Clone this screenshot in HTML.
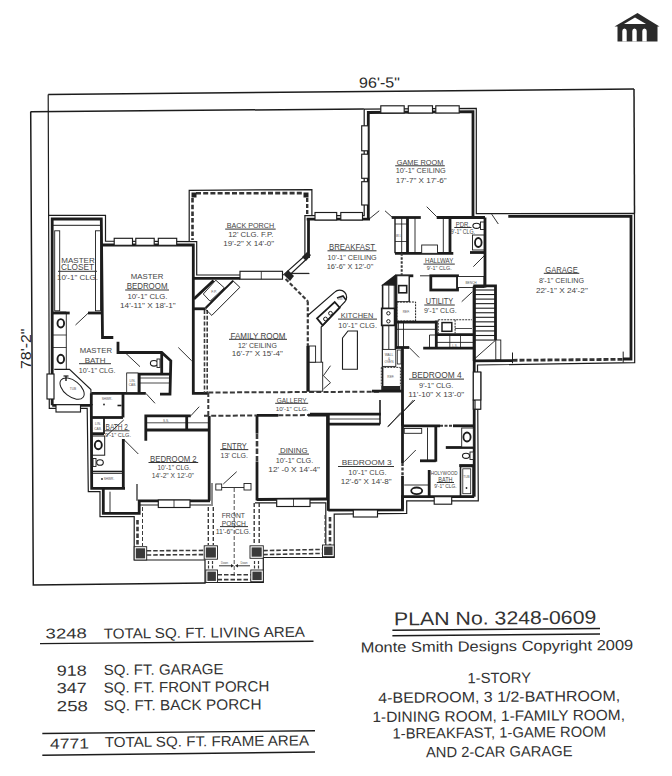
<!DOCTYPE html>
<html><head><meta charset="utf-8"><style>
html,body{margin:0;padding:0;background:#fff;}
body{width:672px;height:776px;overflow:hidden;}
svg{display:block;}
text{font-family:"Liberation Sans",sans-serif;}
</style></head><body>
<svg width="672" height="776" viewBox="0 0 672 776" stroke-linecap="butt">
<rect width="672" height="776" fill="#fff"/>
<line x1="48.2" y1="94.4" x2="634" y2="89" stroke="#1c1c1c" stroke-width="1.5"/>
<polyline points="30.5,111.7 363.8,109.0" fill="none" stroke="#1c1c1c" stroke-width="1.5" stroke-linejoin="miter"/>
<polyline points="30.7,111.7 33.3,585.0 205.7,583.0" fill="none" stroke="#1c1c1c" stroke-width="1.5" stroke-linejoin="miter"/>
<line x1="634" y1="89" x2="634.5" y2="213.3" stroke="#1c1c1c" stroke-width="1.5"/>
<polyline points="48.2,94.4 49.3,408.3 87.2,408.3 88.3,491.7 100.0,491.7 100.0,516.7 134.2,516.7 134.2,560.0 205.0,560.0 205.0,582.5 263.3,582.5 263.3,557.5 334.2,557.5 334.2,514.2 406.7,513.3 406.7,500.8 478.3,500.8 477.5,365.0 634.7,362.6 634.5,213.3 476.3,213.7 476.3,108.3 364.2,109.2 364.2,215.6 304.9,215.6 304.9,255.8 283.2,275.1" fill="none" stroke="#1c1c1c" stroke-width="1.2" stroke-linejoin="miter"/>
<polyline points="48.8,215.3 105.5,215.3 105.5,241.2 196.7,241.7 196.7,275.0 240.0,275.0" fill="none" stroke="#1c1c1c" stroke-width="1.2" stroke-linejoin="miter"/>
<polyline points="189.2,241.5 189.2,190.3 311.9,189.6 311.9,215.6" fill="none" stroke="#1c1c1c" stroke-width="1.2" stroke-linejoin="miter"/>
<polyline points="255.0,502.8 325.8,502.8 325.8,557.5" fill="none" stroke="#1c1c1c" stroke-width="1.2" stroke-linejoin="miter"/>
<polyline points="139.0,505.0 211.0,505.0" fill="none" stroke="#1c1c1c" stroke-width="1.2" stroke-linejoin="miter"/>
<polyline points="52.2,405.3 52.2,219.0 101.3,219.0 102.5,337.5 113.3,337.5" fill="none" stroke="#1c1c1c" stroke-width="2.8" stroke-linejoin="miter"/>
<polyline points="52.2,405.3 91.3,405.3 91.7,488.3 125.0,488.3" fill="none" stroke="#1c1c1c" stroke-width="2.8" stroke-linejoin="miter"/>
<polyline points="103.3,488.3 103.3,513.3 139.2,513.3 139.2,500.8 210.0,500.8" fill="none" stroke="#1c1c1c" stroke-width="2.8" stroke-linejoin="miter"/>
<polyline points="101.3,245.0 193.3,245.0 193.3,393.3 208.3,393.3" fill="none" stroke="#1c1c1c" stroke-width="2.8" stroke-linejoin="miter"/>
<line x1="53" y1="225.3" x2="101" y2="225.3" stroke="#1c1c1c" stroke-width="1.0"/>
<rect x="54.7" y="230.8" width="5.0" height="80.0" fill="#fff" stroke="#1c1c1c" stroke-width="0.9"/>
<rect x="95.5" y="230.8" width="5.0" height="80.0" fill="#fff" stroke="#1c1c1c" stroke-width="0.9"/>
<line x1="53" y1="313" x2="69.7" y2="313" stroke="#1c1c1c" stroke-width="2.8"/>
<line x1="88" y1="313" x2="101.3" y2="313" stroke="#1c1c1c" stroke-width="2.8"/>
<polyline points="118.0,341.7 118.0,352.5 161.7,352.5 170.8,360.8 170.0,394.2 160.0,394.2" fill="none" stroke="#1c1c1c" stroke-width="2.8" stroke-linejoin="miter"/>
<line x1="161.7" y1="352.5" x2="161.7" y2="374.2" stroke="#1c1c1c" stroke-width="2.8"/>
<line x1="126.7" y1="374.2" x2="170" y2="374.2" stroke="#1c1c1c" stroke-width="2.8"/>
<line x1="139.2" y1="375" x2="139.2" y2="392.5" stroke="#1c1c1c" stroke-width="2.8"/>
<line x1="91.3" y1="393.3" x2="145.8" y2="393.3" stroke="#1c1c1c" stroke-width="2.8"/>
<line x1="123" y1="393.3" x2="123" y2="417.5" stroke="#1c1c1c" stroke-width="2.8"/>
<line x1="91.5" y1="417.5" x2="123" y2="417.5" stroke="#1c1c1c" stroke-width="2.8"/>
<line x1="123.7" y1="420" x2="106.6" y2="435.6" stroke="#1c1c1c" stroke-width="0.9"/>
<line x1="104" y1="418" x2="104" y2="434" stroke="#1c1c1c" stroke-width="1.8"/>
<line x1="91.5" y1="433.7" x2="104" y2="433.7" stroke="#1c1c1c" stroke-width="2.8"/>
<line x1="117.5" y1="405.5" x2="121.5" y2="405.5" stroke="#1c1c1c" stroke-width="1.6"/>
<line x1="123.3" y1="439" x2="123.3" y2="488.3" stroke="#1c1c1c" stroke-width="2.8"/>
<polyline points="145.8,440.8 145.8,415.8 190.8,415.8" fill="none" stroke="#1c1c1c" stroke-width="2.8" stroke-linejoin="miter"/>
<line x1="145.8" y1="430" x2="209.2" y2="430" stroke="#1c1c1c" stroke-width="2.8"/>
<line x1="186.7" y1="415.8" x2="186.7" y2="430" stroke="#1c1c1c" stroke-width="2.8"/>
<line x1="146" y1="422.8" x2="209" y2="422.8" stroke="#1c1c1c" stroke-width="0.8"/>
<line x1="209.2" y1="415.8" x2="209.2" y2="500.8" stroke="#1c1c1c" stroke-width="2.8"/>
<line x1="137" y1="484" x2="137" y2="500.8" stroke="#1c1c1c" stroke-width="1.2"/>
<line x1="212" y1="483" x2="212" y2="506" stroke="#1c1c1c" stroke-width="1.0"/>
<line x1="257" y1="415.3" x2="257" y2="433.4" stroke="#1c1c1c" stroke-width="2.8"/>
<line x1="257" y1="433.4" x2="257" y2="461.7" stroke="#3a3a3a" stroke-width="2.6" stroke-dasharray="5.5 2"/>
<line x1="257" y1="461.7" x2="257" y2="500.4" stroke="#1c1c1c" stroke-width="2.8"/>
<line x1="208.3" y1="392.5" x2="380" y2="391.7" stroke="#3a3a3a" stroke-width="2.0" stroke-dasharray="5 2.2"/>
<line x1="204" y1="415.8" x2="256.7" y2="415.5" stroke="#3a3a3a" stroke-width="2.0" stroke-dasharray="5 2.2"/>
<line x1="208.3" y1="393" x2="208.3" y2="416" stroke="#3a3a3a" stroke-width="2.0" stroke-dasharray="4 2"/>
<line x1="256.7" y1="415.4" x2="278.3" y2="415.3" stroke="#1c1c1c" stroke-width="2.8"/>
<line x1="278.3" y1="415.2" x2="308" y2="415.1" stroke="#3a3a3a" stroke-width="2.0" stroke-dasharray="5 2.2"/>
<line x1="308" y1="415.1" x2="328.3" y2="415" stroke="#1c1c1c" stroke-width="2.8"/>
<line x1="327.5" y1="415" x2="327.5" y2="499" stroke="#1c1c1c" stroke-width="2.8"/>
<line x1="256.7" y1="499.5" x2="327.5" y2="499" stroke="#1c1c1c" stroke-width="2.8"/>
<line x1="310" y1="414.2" x2="380.8" y2="414.2" stroke="#1c1c1c" stroke-width="2.8"/>
<line x1="328.3" y1="424.2" x2="380" y2="424.2" stroke="#1c1c1c" stroke-width="2.8"/>
<line x1="328.3" y1="419" x2="380" y2="419" stroke="#1c1c1c" stroke-width="0.8"/>
<line x1="380" y1="400" x2="380" y2="424.2" stroke="#1c1c1c" stroke-width="1.6"/>
<line x1="328.3" y1="414.2" x2="328.3" y2="510.8" stroke="#1c1c1c" stroke-width="2.8"/>
<polyline points="328.3,510.2 402.5,509.8 402.5,496.7 474.2,496.7" fill="none" stroke="#1c1c1c" stroke-width="2.8" stroke-linejoin="miter"/>
<line x1="402.5" y1="412.5" x2="402.5" y2="463" stroke="#1c1c1c" stroke-width="2.8"/>
<line x1="402.5" y1="463" x2="402.5" y2="476" stroke="#3a3a3a" stroke-width="2.4" stroke-dasharray="3 1.6"/>
<line x1="402.5" y1="476" x2="402.5" y2="509" stroke="#1c1c1c" stroke-width="2.8"/>
<line x1="474.2" y1="285" x2="474.2" y2="496.7" stroke="#1c1c1c" stroke-width="2.8"/>
<line x1="402.5" y1="425.8" x2="440" y2="425.8" stroke="#1c1c1c" stroke-width="2.8"/>
<line x1="440" y1="425.8" x2="453" y2="425.8" stroke="#3a3a3a" stroke-width="2.0" stroke-dasharray="3 1.5"/>
<line x1="453" y1="425.8" x2="474.2" y2="425.8" stroke="#1c1c1c" stroke-width="2.8"/>
<line x1="427.5" y1="427.5" x2="427.5" y2="461.7" stroke="#1c1c1c" stroke-width="0.9"/>
<line x1="435.8" y1="427" x2="435.8" y2="461.7" stroke="#1c1c1c" stroke-width="2.8"/>
<line x1="420" y1="460.8" x2="435.8" y2="460.8" stroke="#1c1c1c" stroke-width="2.8"/>
<rect x="404.2" y="428.5" width="17.5" height="4.8" fill="#fff" stroke="#1c1c1c" stroke-width="0.9"/>
<line x1="429.2" y1="470" x2="429.2" y2="496.7" stroke="#1c1c1c" stroke-width="2.8"/>
<line x1="404.2" y1="485" x2="428.3" y2="485" stroke="#1c1c1c" stroke-width="0.9"/>
<line x1="445.8" y1="447.5" x2="473.3" y2="447.5" stroke="#1c1c1c" stroke-width="2.8"/>
<rect x="461.7" y="428" width="11.6" height="19.0" fill="#fff" stroke="#1c1c1c" stroke-width="0.9"/>
<ellipse cx="467" cy="437" rx="3.6" ry="4.5" fill="none" stroke="#1c1c1c" stroke-width="1.8"/>
<ellipse cx="416.7" cy="490.8" rx="5.5" ry="3.3" fill="none" stroke="#1c1c1c" stroke-width="1.8"/>
<ellipse cx="466" cy="455.8" rx="3.5" ry="2.6" fill="none" stroke="#1c1c1c" stroke-width="1.1"/>
<rect x="470" y="452" width="3.3" height="7.5" fill="#fff" stroke="#1c1c1c" stroke-width="0.9"/>
<line x1="459.2" y1="465.5" x2="474.2" y2="465.5" stroke="#1c1c1c" stroke-width="2.8"/>
<rect x="460.5" y="466.5" width="12.5" height="29.5" fill="#fff" stroke="#1c1c1c" stroke-width="1.6"/>
<rect x="462.8" y="468.8" width="7.9" height="24.9" fill="#fff" stroke="#1c1c1c" stroke-width="0.8"/>
<line x1="402.5" y1="347.5" x2="402.5" y2="425.8" stroke="#1c1c1c" stroke-width="2.8"/>
<line x1="396.7" y1="347.5" x2="409.2" y2="347.5" stroke="#1c1c1c" stroke-width="2.8"/>
<line x1="395" y1="275.8" x2="413.3" y2="275.8" stroke="#1c1c1c" stroke-width="2.8"/>
<rect x="430.8" y="275.8" width="26.7" height="14.2" fill="none" stroke="#1c1c1c" stroke-width="2.8"/>
<rect x="457.5" y="276.5" width="26.5" height="11.0" fill="#fff" stroke="#1c1c1c" stroke-width="0.9"/>
<line x1="485" y1="217.5" x2="485" y2="287.5" stroke="#1c1c1c" stroke-width="2.8"/>
<polyline points="473.3,285.8 495.5,285.8 495.5,340.0" fill="none" stroke="#1c1c1c" stroke-width="2.8" stroke-linejoin="miter"/>
<line x1="474.2" y1="285.8" x2="474.2" y2="361" stroke="#1c1c1c" stroke-width="2.8"/>
<line x1="474.5" y1="290.0" x2="495" y2="290.0" stroke="#1c1c1c" stroke-width="1.1"/>
<line x1="474.5" y1="294.55" x2="495" y2="294.55" stroke="#1c1c1c" stroke-width="1.1"/>
<line x1="474.5" y1="299.1" x2="495" y2="299.1" stroke="#1c1c1c" stroke-width="1.1"/>
<line x1="474.5" y1="303.65" x2="495" y2="303.65" stroke="#1c1c1c" stroke-width="1.1"/>
<line x1="474.5" y1="308.2" x2="495" y2="308.2" stroke="#1c1c1c" stroke-width="1.1"/>
<line x1="474.5" y1="312.75" x2="495" y2="312.75" stroke="#1c1c1c" stroke-width="1.1"/>
<line x1="474.5" y1="317.3" x2="495" y2="317.3" stroke="#1c1c1c" stroke-width="1.1"/>
<line x1="474.5" y1="321.85" x2="495" y2="321.85" stroke="#1c1c1c" stroke-width="1.1"/>
<line x1="474.5" y1="326.4" x2="495" y2="326.4" stroke="#1c1c1c" stroke-width="1.1"/>
<line x1="474.5" y1="330.95" x2="495" y2="330.95" stroke="#1c1c1c" stroke-width="1.1"/>
<line x1="474.5" y1="335.5" x2="495" y2="335.5" stroke="#1c1c1c" stroke-width="1.1"/>
<line x1="474.5" y1="340.05" x2="495" y2="340.05" stroke="#1c1c1c" stroke-width="1.1"/>
<line x1="474.2" y1="359.2" x2="495.8" y2="340" stroke="#1c1c1c" stroke-width="0.9"/>
<rect x="495.8" y="340" width="5.0" height="20.0" fill="none" stroke="#1c1c1c" stroke-width="0.9"/>
<polyline points="508.3,216.4 631.0,216.4 631.0,359.0 623.0,359.0" fill="none" stroke="#1c1c1c" stroke-width="2.8" stroke-linejoin="miter"/>
<line x1="474.2" y1="360.8" x2="512.5" y2="360.6" stroke="#1c1c1c" stroke-width="2.8"/>
<line x1="512.5" y1="360.3" x2="623" y2="359.3" stroke="#333" stroke-width="2.8" stroke-dasharray="5 2"/>
<line x1="512.5" y1="352.5" x2="512.5" y2="363.3" stroke="#1c1c1c" stroke-width="1.0"/>
<line x1="623.2" y1="351.6" x2="623.2" y2="362.6" stroke="#1c1c1c" stroke-width="1.0"/>
<line x1="491.7" y1="214.2" x2="498.3" y2="224" stroke="#1c1c1c" stroke-width="0.9"/>
<line x1="391.7" y1="217.5" x2="420.8" y2="217.5" stroke="#1c1c1c" stroke-width="2.8"/>
<line x1="436.7" y1="217.5" x2="485" y2="217.5" stroke="#1c1c1c" stroke-width="2.8"/>
<line x1="395" y1="253.3" x2="453.3" y2="253.3" stroke="#1c1c1c" stroke-width="2.8"/>
<line x1="470" y1="252.5" x2="485" y2="252.5" stroke="#1c1c1c" stroke-width="2.8"/>
<line x1="395" y1="217.5" x2="395" y2="253.3" stroke="#1c1c1c" stroke-width="1.4"/>
<line x1="401.7" y1="217.5" x2="401.7" y2="253.3" stroke="#1c1c1c" stroke-width="0.9"/>
<line x1="407.5" y1="217.5" x2="407.5" y2="253.3" stroke="#1c1c1c" stroke-width="2.8"/>
<line x1="415" y1="217.5" x2="415" y2="253.3" stroke="#1c1c1c" stroke-width="0.9"/>
<line x1="395" y1="224" x2="407.5" y2="224" stroke="#1c1c1c" stroke-width="0.8"/>
<line x1="395" y1="241.5" x2="407.5" y2="241.5" stroke="#1c1c1c" stroke-width="0.8"/>
<line x1="443.3" y1="217.5" x2="443.3" y2="253.3" stroke="#1c1c1c" stroke-width="0.9"/>
<line x1="450" y1="217.5" x2="450" y2="253.3" stroke="#1c1c1c" stroke-width="2.8"/>
<rect x="421.7" y="245" width="15.8" height="8.3" fill="#fff" stroke="#1c1c1c" stroke-width="0.9"/>
<rect x="472.5" y="235" width="11.5" height="15.0" fill="#fff" stroke="#1c1c1c" stroke-width="0.9"/>
<ellipse cx="478.3" cy="242.5" rx="3.3" ry="4.5" fill="none" stroke="#1c1c1c" stroke-width="1.8"/>
<ellipse cx="476.5" cy="225.8" rx="3.6" ry="2.6" fill="none" stroke="#1c1c1c" stroke-width="1.1"/>
<rect x="480.5" y="222" width="3.5" height="7.5" fill="#fff" stroke="#1c1c1c" stroke-width="0.9"/>
<line x1="401.7" y1="253.3" x2="401.7" y2="275" stroke="#3a3a3a" stroke-width="2.0" stroke-dasharray="2.5 1.5"/>
<line x1="420" y1="275.8" x2="430" y2="275.8" stroke="#1c1c1c" stroke-width="0.9"/>
<polyline points="368.3,218.3 368.3,112.5 473.0,111.7 473.0,216.7" fill="none" stroke="#1c1c1c" stroke-width="2.8" stroke-linejoin="miter"/>
<line x1="306.7" y1="219.2" x2="370" y2="219.2" stroke="#1c1c1c" stroke-width="2.8"/>
<line x1="196" y1="193.3" x2="304" y2="193.1" stroke="#333" stroke-width="2.6" stroke-dasharray="5 2.2"/>
<line x1="192.5" y1="198" x2="192.5" y2="240" stroke="#333" stroke-width="2.6" stroke-dasharray="4.5 2.2"/>
<line x1="307.2" y1="198" x2="307.2" y2="215" stroke="#333" stroke-width="2.4" stroke-dasharray="4 2"/>
<rect x="191.5" y="192.5" width="5" height="5" fill="#222"/>
<rect x="303.5" y="192.5" width="5" height="5" fill="#222"/>
<polyline points="193.3,278.3 240.0,278.3" fill="none" stroke="#1c1c1c" stroke-width="2.8" stroke-linejoin="miter"/>
<line x1="308.5" y1="219" x2="308.5" y2="258" stroke="#1c1c1c" stroke-width="2.8"/>
<line x1="287.1" y1="277.4" x2="308.5" y2="257.3" stroke="#1c1c1c" stroke-width="1.2"/>
<polygon points="284,275 290,281 294,276 288,270" fill="#222"/>
<polygon points="302,257 306,261 311,255 307,252" fill="#222"/>
<line x1="285.6" y1="279" x2="307.8" y2="301.3" stroke="#3a3a3a" stroke-width="2.2" stroke-dasharray="4 2"/>
<line x1="307.8" y1="301.3" x2="307.8" y2="346" stroke="#3a3a3a" stroke-width="2.2" stroke-dasharray="4 2"/>
<line x1="307.8" y1="346" x2="307.8" y2="391.7" stroke="#1c1c1c" stroke-width="2.8"/>
<line x1="291.8" y1="273.6" x2="309.5" y2="273.6" stroke="#1c1c1c" stroke-width="0.9"/>
<line x1="204.5" y1="310" x2="204.5" y2="393" stroke="#3a3a3a" stroke-width="1.6" stroke-dasharray="4 1.8"/>
<line x1="207.2" y1="310" x2="207.2" y2="393" stroke="#3a3a3a" stroke-width="1.6" stroke-dasharray="4 1.8"/>
<line x1="193.9" y1="299" x2="213.6" y2="280.6" stroke="#1c1c1c" stroke-width="2.8"/>
<polygon points="215.8,280.2 224.3,287.8 210,301.2 203.3,294" fill="none" stroke="#1c1c1c" stroke-width="0.9"/>
<line x1="205.5" y1="307.9" x2="233.2" y2="280.6" stroke="#1c1c1c" stroke-width="2.0"/>
<line x1="210.5" y1="301.8" x2="226" y2="287" stroke="#1c1c1c" stroke-width="0.8"/>
<polygon points="233.2,281 239.9,287.3 211.8,315.4 205.5,309.2" fill="none" stroke="#1c1c1c" stroke-width="1"/>
<line x1="193" y1="308.8" x2="205.5" y2="308.8" stroke="#1c1c1c" stroke-width="2.8"/>
<path d="M307.8,315.5 L334.7,292.1 A6.6,6.6 0 0 1 344.5,302.2 L321.2,327 L321.2,362.2" fill="none" stroke="#1c1c1c" stroke-width="1.2"/>
<polygon points="317,318.3 334.7,302 339.7,307.7 322.7,325.4" fill="none" stroke="#1c1c1c" stroke-width="1.8"/>
<circle cx="325.5" cy="319" r="1.9" fill="none" stroke="#1c1c1c" stroke-width="1"/><circle cx="330.5" cy="313.3" r="1.9" fill="none" stroke="#1c1c1c" stroke-width="1"/>
<polyline points="337,298 343,296 346,300" fill="none" stroke="#1c1c1c" stroke-width="1.6"/>
<rect x="309.2" y="362.2" width="13.5" height="29.0" fill="#fff" stroke="#1c1c1c" stroke-width="0.9"/>
<rect x="309.2" y="346" width="6.4" height="16.2" fill="#fff" stroke="#1c1c1c" stroke-width="0.9"/>
<polyline points="330.5,365.7 323.4,375.7 330.5,382.7 323.4,389" fill="none" stroke="#1c1c1c" stroke-width="0.9"/>
<polygon points="342.5,338 348,331 357.4,331 357.4,369.3 342.5,369.3" fill="none" stroke="#1c1c1c" stroke-width="1.1"/>
<line x1="396" y1="275.8" x2="396" y2="349" stroke="#1c1c1c" stroke-width="2.8"/>
<polygon points="383.5,284.7 395,275.8 396,275.8 396,285 " fill="#1c1c1c" stroke="#1c1c1c" stroke-width="1.6"/>
<line x1="382.6" y1="284.7" x2="382.6" y2="391" stroke="#1c1c1c" stroke-width="1.6"/>
<line x1="388.8" y1="284.7" x2="388.8" y2="349" stroke="#1c1c1c" stroke-width="0.9"/>
<line x1="394.2" y1="284.7" x2="394.2" y2="308.4" stroke="#1c1c1c" stroke-width="0.9"/>
<rect x="381.7" y="308.4" width="12.9" height="17.0" fill="#fff" stroke="#1c1c1c" stroke-width="1.7"/>
<circle cx="388.4" cy="313.3" r="1.7" fill="none" stroke="#1c1c1c" stroke-width="1"/><circle cx="388.4" cy="321.3" r="1.7" fill="none" stroke="#1c1c1c" stroke-width="1"/>
<rect x="382.4" y="349.4" width="13.4" height="17.0" fill="#fff" stroke="#1c1c1c" stroke-width="0.9"/>
<line x1="381.3" y1="367.4" x2="400.4" y2="367.4" stroke="#3a3a3a" stroke-width="1.0" stroke-dasharray="2 1"/>
<line x1="381.3" y1="367.4" x2="381.3" y2="386" stroke="#3a3a3a" stroke-width="1.0" stroke-dasharray="2 1"/>
<line x1="400.4" y1="367.4" x2="400.4" y2="386" stroke="#3a3a3a" stroke-width="1.0" stroke-dasharray="2 1"/>
<rect x="381.3" y="386" width="19.1" height="5" fill="#262626"/>
<line x1="372" y1="391.1" x2="403" y2="391.1" stroke="#1c1c1c" stroke-width="2.8"/>
<line x1="398.4" y1="322.2" x2="398.4" y2="347.3" stroke="#1c1c1c" stroke-width="0.9"/>
<line x1="403.5" y1="322.2" x2="403.5" y2="347.3" stroke="#1c1c1c" stroke-width="0.9"/>
<rect x="397.3" y="350" width="3.7" height="14.0" fill="#fff" stroke="#1c1c1c" stroke-width="0.8"/>
<rect x="396.9" y="275.8" width="12.5" height="25.9" fill="#fff" stroke="#1c1c1c" stroke-width="0.9"/>
<rect x="398.7" y="285.6" width="8.0" height="7.2" fill="#fff" stroke="#1c1c1c" stroke-width="1.6"/>
<rect x="396.9" y="302" width="18.7" height="19" fill="none" stroke="#1c1c1c" stroke-width="1" stroke-dasharray="2 1"/>
<line x1="409" y1="275.8" x2="409" y2="301.7" stroke="#1c1c1c" stroke-width="0.9"/>
<line x1="396" y1="322.2" x2="437.5" y2="322.2" stroke="#1c1c1c" stroke-width="2.8"/>
<line x1="436.3" y1="320.6" x2="436.3" y2="348.2" stroke="#1c1c1c" stroke-width="2.8"/>
<line x1="396" y1="329.3" x2="436.3" y2="329.3" stroke="#1c1c1c" stroke-width="0.9"/>
<line x1="438.2" y1="319.7" x2="472" y2="319.7" stroke="#3a3a3a" stroke-width="1.1" stroke-dasharray="2 1"/>
<line x1="438.2" y1="319.7" x2="438.2" y2="333.2" stroke="#3a3a3a" stroke-width="1.1" stroke-dasharray="2 1"/>
<line x1="455.1" y1="319.7" x2="455.1" y2="333.2" stroke="#3a3a3a" stroke-width="1.1" stroke-dasharray="2 1"/>
<line x1="455.1" y1="328.5" x2="472" y2="328.5" stroke="#1c1c1c" stroke-width="0.8"/>
<rect x="442" y="322.6" width="9.8" height="8.7" fill="none" stroke="#1c1c1c" stroke-width="1.5"/>
<line x1="436.3" y1="334.7" x2="473.5" y2="334.7" stroke="#1c1c1c" stroke-width="2.8"/>
<line x1="436.3" y1="342.4" x2="473.5" y2="342.4" stroke="#1c1c1c" stroke-width="0.9"/>
<line x1="449.8" y1="334.7" x2="449.8" y2="348.2" stroke="#1c1c1c" stroke-width="0.8"/>
<line x1="460.5" y1="334.7" x2="460.5" y2="348.2" stroke="#1c1c1c" stroke-width="0.8"/>
<line x1="423.2" y1="348.2" x2="473.5" y2="348.2" stroke="#1c1c1c" stroke-width="2.8"/>
<polyline points="429.5,348.0 429.5,335.0 435.8,335.0" fill="none" stroke="#1c1c1c" stroke-width="0.9" stroke-linejoin="miter"/>
<line x1="54.7" y1="312" x2="66.3" y2="312" stroke="#1c1c1c" stroke-width="0.8"/>
<line x1="66.3" y1="313" x2="66.3" y2="369" stroke="#1c1c1c" stroke-width="0.9"/>
<line x1="53" y1="335" x2="66.3" y2="335" stroke="#1c1c1c" stroke-width="0.8"/>
<line x1="53" y1="347.5" x2="66.3" y2="347.5" stroke="#1c1c1c" stroke-width="0.8"/>
<ellipse cx="60.8" cy="323.3" rx="3.3" ry="4.2" fill="none" stroke="#1c1c1c" stroke-width="1.9"/>
<ellipse cx="60.8" cy="359" rx="3.3" ry="4.2" fill="none" stroke="#1c1c1c" stroke-width="1.9"/>
<polyline points="54.3,369.4 69.5,369.4 90.9,389.5 90.9,405" fill="none" stroke="#1c1c1c" stroke-width="1.1"/>
<ellipse cx="72.1" cy="388.6" rx="14" ry="8" transform="rotate(38 72.1 388.6)" fill="none" stroke="#1c1c1c" stroke-width="1"/>
<line x1="63.5" y1="376" x2="68.5" y2="376" stroke="#1c1c1c" stroke-width="1.2"/>
<line x1="66" y1="376" x2="66" y2="381" stroke="#1c1c1c" stroke-width="1.4"/>
<line x1="91.3" y1="393.3" x2="91.3" y2="405.3" stroke="#1c1c1c" stroke-width="2.8"/>
<rect x="47" y="374" width="7.0" height="25.0" fill="#fff" stroke="#1c1c1c" stroke-width="1.15"/>
<rect x="56" y="404.7" width="24.5" height="7.3" fill="#fff" stroke="#1c1c1c" stroke-width="1.15"/>
<rect x="92" y="436" width="12.7" height="19.2" fill="none" stroke="#1c1c1c" stroke-width="1.0"/>
<ellipse cx="98.3" cy="445" rx="3.5" ry="4.2" fill="none" stroke="#1c1c1c" stroke-width="1.9"/>
<ellipse cx="100" cy="462.5" rx="3.3" ry="2.8" fill="none" stroke="#1c1c1c" stroke-width="1.1"/>
<rect x="93" y="458.5" width="3.0" height="8.0" fill="#fff" stroke="#1c1c1c" stroke-width="0.9"/>
<line x1="92" y1="471.5" x2="123" y2="471.5" stroke="#1c1c1c" stroke-width="1.6"/>
<line x1="92" y1="473.5" x2="123" y2="473.5" stroke="#1c1c1c" stroke-width="0.8"/>
<rect x="126.7" y="373" width="11.3" height="19.5" fill="#fff" stroke="#1c1c1c" stroke-width="0.8"/>
<line x1="139.2" y1="378" x2="170" y2="378" stroke="#1c1c1c" stroke-width="0.8"/>
<line x1="139.2" y1="383" x2="170" y2="383" stroke="#1c1c1c" stroke-width="0.8"/>
<ellipse cx="154" cy="363.3" rx="3.6" ry="2.8" fill="none" stroke="#1c1c1c" stroke-width="1.1"/>
<rect x="157" y="359" width="3.0" height="8.5" fill="#fff" stroke="#1c1c1c" stroke-width="0.9"/>
<line x1="110" y1="491.7" x2="110" y2="513" stroke="#1c1c1c" stroke-width="0.9"/>
<line x1="75.5" y1="325" x2="88" y2="313.3" stroke="#1c1c1c" stroke-width="0.9"/>
<line x1="125.8" y1="353.3" x2="140" y2="366.7" stroke="#1c1c1c" stroke-width="0.9"/>
<line x1="178.3" y1="347.5" x2="191.7" y2="360.8" stroke="#1c1c1c" stroke-width="0.9"/>
<line x1="145.8" y1="393.3" x2="155" y2="403.3" stroke="#1c1c1c" stroke-width="0.9"/>
<line x1="123.3" y1="439" x2="138.3" y2="454" stroke="#1c1c1c" stroke-width="0.9"/>
<line x1="190.8" y1="415.8" x2="199.2" y2="406.7" stroke="#1c1c1c" stroke-width="0.9"/>
<line x1="223.3" y1="484" x2="236.7" y2="471.7" stroke="#1c1c1c" stroke-width="0.9"/>
<line x1="388.3" y1="426.7" x2="400.8" y2="412.5" stroke="#1c1c1c" stroke-width="0.9"/>
<line x1="402.5" y1="412.5" x2="413.3" y2="400" stroke="#1c1c1c" stroke-width="0.9"/>
<line x1="404.2" y1="461.7" x2="415.8" y2="450" stroke="#1c1c1c" stroke-width="0.9"/>
<line x1="409.2" y1="347.5" x2="419.2" y2="357.5" stroke="#1c1c1c" stroke-width="0.9"/>
<line x1="387.5" y1="426.7" x2="415" y2="400" stroke="#1c1c1c" stroke-width="0.9"/>
<line x1="461.7" y1="301.7" x2="472.5" y2="291.7" stroke="#1c1c1c" stroke-width="0.9"/>
<line x1="473.3" y1="266.7" x2="485" y2="255" stroke="#1c1c1c" stroke-width="0.9"/>
<line x1="385" y1="210.8" x2="392.5" y2="217.5" stroke="#1c1c1c" stroke-width="0.9"/>
<line x1="426.7" y1="206.7" x2="436.7" y2="216.7" stroke="#1c1c1c" stroke-width="0.9"/>
<line x1="370" y1="218.3" x2="379.2" y2="210.8" stroke="#1c1c1c" stroke-width="0.9"/>
<line x1="290" y1="273.3" x2="309" y2="273.3" stroke="#1c1c1c" stroke-width="0.9"/>
<rect x="380.8" y="105.8" width="23.4" height="7.2" fill="#fff" stroke="#1c1c1c" stroke-width="1.15"/>
<rect x="408.3" y="105.8" width="24.2" height="7.2" fill="#fff" stroke="#1c1c1c" stroke-width="1.15"/>
<rect x="435.8" y="105.8" width="23.4" height="7.2" fill="#fff" stroke="#1c1c1c" stroke-width="1.15"/>
<rect x="361.7" y="125.8" width="6.6" height="25.0" fill="#fff" stroke="#1c1c1c" stroke-width="1.15"/>
<rect x="361.7" y="154.2" width="6.6" height="24.1" fill="#fff" stroke="#1c1c1c" stroke-width="1.15"/>
<rect x="361.7" y="181.7" width="6.6" height="23.3" fill="#fff" stroke="#1c1c1c" stroke-width="1.15"/>
<rect x="114.2" y="238.3" width="18.3" height="7.0" fill="#fff" stroke="#1c1c1c" stroke-width="1.15"/>
<rect x="135.8" y="238.3" width="18.4" height="7.0" fill="#fff" stroke="#1c1c1c" stroke-width="1.15"/>
<rect x="158.3" y="238.3" width="18.4" height="7.0" fill="#fff" stroke="#1c1c1c" stroke-width="1.15"/>
<rect x="240" y="271.3" width="42.5" height="7.9" fill="#fff" stroke="#1c1c1c" stroke-width="1.15"/>
<line x1="261.3" y1="271.3" x2="261.3" y2="279.2" stroke="#1c1c1c" stroke-width="0.8"/>
<rect x="315" y="212.5" width="21.7" height="7.5" fill="#fff" stroke="#1c1c1c" stroke-width="1.15"/>
<rect x="340.8" y="212.5" width="21.7" height="7.5" fill="#fff" stroke="#1c1c1c" stroke-width="1.15"/>
<rect x="158.3" y="500" width="31.7" height="7.5" fill="#fff" stroke="#1c1c1c" stroke-width="1.15"/>
<line x1="174" y1="500" x2="174" y2="507.5" stroke="#1c1c1c" stroke-width="0.8"/>
<rect x="276.7" y="499" width="33.3" height="7.5" fill="#fff" stroke="#1c1c1c" stroke-width="1.15"/>
<line x1="293.5" y1="499" x2="293.5" y2="506.5" stroke="#1c1c1c" stroke-width="0.8"/>
<rect x="353.3" y="510" width="24.2" height="7.0" fill="#fff" stroke="#1c1c1c" stroke-width="1.15"/>
<rect x="434.2" y="496.7" width="17.5" height="7.5" fill="#fff" stroke="#1c1c1c" stroke-width="1.15"/>
<rect x="473.3" y="400" width="6.7" height="9.2" fill="#fff" stroke="#1c1c1c" stroke-width="1.15"/>
<rect x="475" y="372.5" width="5.8" height="36.7" fill="#fff" stroke="#1c1c1c" stroke-width="1.15"/>
<line x1="475" y1="391" x2="480.8" y2="391" stroke="#1c1c1c" stroke-width="0.8"/>
<rect x="473.3" y="372" width="7.5" height="28.0" fill="#fff" stroke="#1c1c1c" stroke-width="1.15"/>
<rect x="134.2" y="546.7" width="12.5" height="13.3" fill="#fff" stroke="#1c1c1c" stroke-width="0.9"/>
<rect x="135.79999999999998" y="548.3000000000001" width="9.3" height="10.1" fill="#3a3a3a"/>
<rect x="204.2" y="545.8" width="13.3" height="13.4" fill="#fff" stroke="#1c1c1c" stroke-width="0.9"/>
<rect x="205.79999999999998" y="547.4" width="10.1" height="10.2" fill="#3a3a3a"/>
<rect x="250" y="545.8" width="13.3" height="12.5" fill="#fff" stroke="#1c1c1c" stroke-width="0.9"/>
<rect x="251.6" y="547.4" width="10.1" height="9.3" fill="#3a3a3a"/>
<rect x="205.8" y="570" width="11.7" height="12.5" fill="#fff" stroke="#1c1c1c" stroke-width="0.9"/>
<rect x="207.4" y="571.6" width="8.5" height="9.3" fill="#3a3a3a"/>
<rect x="250.8" y="570" width="12.5" height="11.7" fill="#fff" stroke="#1c1c1c" stroke-width="0.9"/>
<rect x="252.4" y="571.6" width="9.3" height="8.5" fill="#3a3a3a"/>
<rect x="322.5" y="545" width="11.7" height="11.7" fill="#fff" stroke="#1c1c1c" stroke-width="0.9"/>
<rect x="324.1" y="546.6" width="8.5" height="8.5" fill="#3a3a3a"/>
<line x1="146.7" y1="550.8" x2="204.2" y2="550.4" stroke="#3a3a3a" stroke-width="1.6" stroke-dasharray="4.5 2"/>
<line x1="146.7" y1="555" x2="204.2" y2="554.6" stroke="#3a3a3a" stroke-width="1.6" stroke-dasharray="4.5 2"/>
<line x1="263.3" y1="550.6" x2="322.5" y2="549.4" stroke="#3a3a3a" stroke-width="1.6" stroke-dasharray="4.5 2"/>
<line x1="263.3" y1="554.6" x2="322.5" y2="553.4" stroke="#3a3a3a" stroke-width="1.6" stroke-dasharray="4.5 2"/>
<line x1="217.5" y1="574.8" x2="250.8" y2="574.8" stroke="#3a3a3a" stroke-width="1.6" stroke-dasharray="4.5 2"/>
<line x1="217.5" y1="579.6" x2="250.8" y2="579.6" stroke="#3a3a3a" stroke-width="1.6" stroke-dasharray="4.5 2"/>
<line x1="137.5" y1="520" x2="137.5" y2="546" stroke="#3a3a3a" stroke-width="2.6" stroke-dasharray="4.5 2.2"/>
<line x1="142.5" y1="507" x2="142.5" y2="546" stroke="#3a3a3a" stroke-width="1.0" stroke-dasharray="4 2"/>
<line x1="208.3" y1="507" x2="208.3" y2="545" stroke="#3a3a3a" stroke-width="1.4" stroke-dasharray="4 2"/>
<line x1="213.3" y1="507" x2="213.3" y2="545" stroke="#3a3a3a" stroke-width="1.4" stroke-dasharray="4 2"/>
<line x1="254.2" y1="503" x2="254.2" y2="545" stroke="#3a3a3a" stroke-width="1.4" stroke-dasharray="4 2"/>
<line x1="259.2" y1="503" x2="259.2" y2="545" stroke="#3a3a3a" stroke-width="1.4" stroke-dasharray="4 2"/>
<line x1="325" y1="515" x2="325" y2="545" stroke="#3a3a3a" stroke-width="1.0" stroke-dasharray="4 2"/>
<line x1="330" y1="517" x2="330" y2="545" stroke="#3a3a3a" stroke-width="2.6" stroke-dasharray="4.5 2.2"/>
<line x1="208.5" y1="561" x2="208.5" y2="569" stroke="#3a3a3a" stroke-width="1.2" stroke-dasharray="3 1.5"/>
<line x1="212.5" y1="561" x2="212.5" y2="569" stroke="#3a3a3a" stroke-width="1.2" stroke-dasharray="3 1.5"/>
<line x1="254.5" y1="561" x2="254.5" y2="569" stroke="#3a3a3a" stroke-width="1.2" stroke-dasharray="3 1.5"/>
<line x1="258.5" y1="561" x2="258.5" y2="569" stroke="#3a3a3a" stroke-width="1.2" stroke-dasharray="3 1.5"/>
<line x1="234.2" y1="488" x2="234.2" y2="578" stroke="#3a3a3a" stroke-width="0.9" stroke-dasharray="4 2"/>
<rect x="215.8" y="484" width="5.9" height="6.0" fill="#fff" stroke="#1c1c1c" stroke-width="0.9"/>
<rect x="244" y="483.5" width="7.0" height="6.5" fill="#fff" stroke="#1c1c1c" stroke-width="0.9"/>
<line x1="221.7" y1="487.5" x2="244" y2="487.5" stroke="#1c1c1c" stroke-width="0.9"/>
<line x1="219" y1="565.8" x2="231" y2="565.8" stroke="#1c1c1c" stroke-width="0.9"/>
<polygon points="231,564 234,565.8 231,567.6" fill="#222"/>
<line x1="238" y1="565.8" x2="250" y2="565.8" stroke="#1c1c1c" stroke-width="0.9"/>
<polygon points="238,564 235,565.8 238,567.6" fill="#222"/>
<text x="396.7" y="165" font-size="8.06" fill="#444" textLength="46.6" lengthAdjust="spacingAndGlyphs">GAME ROOM</text>
<line x1="395.2" y1="165.8" x2="444.8" y2="165.8" stroke="#333" stroke-width="1.0"/>
<text x="395.8" y="173.3" font-size="7.40" fill="#444" textLength="50.0" lengthAdjust="spacingAndGlyphs">10'-1" CEILING</text>
<text x="395.8" y="182.5" font-size="7.40" fill="#444" textLength="50.9" lengthAdjust="spacingAndGlyphs">17'-7" X 17'-6"</text>
<text x="226.7" y="228.3" font-size="8.06" fill="#444" textLength="47.5" lengthAdjust="spacingAndGlyphs">BACK PORCH</text>
<line x1="225.2" y1="229.10000000000002" x2="275.7" y2="229.10000000000002" stroke="#333" stroke-width="1.0"/>
<text x="228.3" y="236.7" font-size="7.40" fill="#444" textLength="45.0" lengthAdjust="spacingAndGlyphs">12' CLG. F.P.</text>
<text x="223.3" y="245.8" font-size="7.40" fill="#444" textLength="50.9" lengthAdjust="spacingAndGlyphs">19'-2" X 14'-0"</text>
<text x="329" y="250" font-size="8.33" fill="#444" textLength="46.0" lengthAdjust="spacingAndGlyphs">BREAKFAST</text>
<line x1="327.5" y1="250.8" x2="376.5" y2="250.8" stroke="#333" stroke-width="1.0"/>
<text x="327.5" y="260" font-size="6.94" fill="#444" textLength="49.2" lengthAdjust="spacingAndGlyphs">10'-1" CEILING</text>
<text x="326.7" y="269.2" font-size="7.40" fill="#444" textLength="46.6" lengthAdjust="spacingAndGlyphs">16'-6" X 12'-0"</text>
<text x="545.3" y="272.5" font-size="8.40" fill="#444" textLength="32.5" lengthAdjust="spacingAndGlyphs">GARAGE</text>
<line x1="543.8" y1="273.3" x2="579.3" y2="273.3" stroke="#333" stroke-width="1.0"/>
<text x="539" y="282.5" font-size="7.40" fill="#444" textLength="45.0" lengthAdjust="spacingAndGlyphs">8'-1" CEILING</text>
<text x="536" y="292.5" font-size="7.40" fill="#444" textLength="51.8" lengthAdjust="spacingAndGlyphs">22'-1" X 24'-2"</text>
<text x="455.8" y="226.7" font-size="6.94" fill="#444" textLength="14.2" lengthAdjust="spacingAndGlyphs">PDR.</text>
<line x1="454.3" y1="227.5" x2="471.5" y2="227.5" stroke="#333" stroke-width="1.0"/>
<text x="450.8" y="234" font-size="6.94" fill="#444" textLength="24.2" lengthAdjust="spacingAndGlyphs">9'-1" CLG.</text>
<text x="425" y="263.3" font-size="6.94" fill="#444" textLength="28.3" lengthAdjust="spacingAndGlyphs">HALLWAY</text>
<line x1="423.5" y1="264.1" x2="454.8" y2="264.1" stroke="#333" stroke-width="1.0"/>
<text x="426.7" y="270" font-size="5.83" fill="#444" textLength="25.0" lengthAdjust="spacingAndGlyphs">9'-1" CLG.</text>
<text x="61.3" y="263.3" font-size="7.40" fill="#444" textLength="33.4" lengthAdjust="spacingAndGlyphs">MASTER</text>
<text x="61" y="270" font-size="8.33" fill="#444" textLength="33.0" lengthAdjust="spacingAndGlyphs">CLOSET</text>
<line x1="58" y1="271.3" x2="97" y2="271.3" stroke="#333" stroke-width="1.0"/>
<text x="57" y="280" font-size="6.94" fill="#444" textLength="41.0" lengthAdjust="spacingAndGlyphs">10'-1" CLG.</text>
<text x="130.8" y="279.2" font-size="7.40" fill="#444" textLength="32.5" lengthAdjust="spacingAndGlyphs">MASTER</text>
<text x="126.7" y="289.2" font-size="8.19" fill="#444" textLength="40.8" lengthAdjust="spacingAndGlyphs">BEDROOM</text>
<line x1="125.2" y1="290.0" x2="169.0" y2="290.0" stroke="#333" stroke-width="1.0"/>
<text x="127.5" y="299.2" font-size="7.40" fill="#444" textLength="40.0" lengthAdjust="spacingAndGlyphs">10'-1" CLG.</text>
<text x="120" y="308.3" font-size="7.40" fill="#444" textLength="55.8" lengthAdjust="spacingAndGlyphs">14'-11" X 18'-1"</text>
<text x="230.5" y="338.5" font-size="8.40" fill="#444" textLength="55.0" lengthAdjust="spacingAndGlyphs">FAMILY ROOM</text>
<line x1="229.0" y1="339.3" x2="287.0" y2="339.3" stroke="#333" stroke-width="1.0"/>
<text x="238" y="347.5" font-size="7.40" fill="#444" textLength="38.8" lengthAdjust="spacingAndGlyphs">12' CEILING</text>
<text x="231.8" y="356.3" font-size="7.40" fill="#444" textLength="51.2" lengthAdjust="spacingAndGlyphs">16'-7" X 15'-4"</text>
<text x="340.8" y="318.3" font-size="8.06" fill="#444" textLength="32.5" lengthAdjust="spacingAndGlyphs">KITCHEN</text>
<line x1="338" y1="319.1" x2="377" y2="319.1" stroke="#333" stroke-width="1.0"/>
<text x="338.3" y="327.5" font-size="6.94" fill="#444" textLength="38.7" lengthAdjust="spacingAndGlyphs">10'-1" CLG.</text>
<text x="425.8" y="304.2" font-size="8.40" fill="#444" textLength="27.5" lengthAdjust="spacingAndGlyphs">UTILITY</text>
<line x1="424.3" y1="305.0" x2="454.8" y2="305.0" stroke="#333" stroke-width="1.0"/>
<text x="424" y="313.3" font-size="6.94" fill="#444" textLength="32.7" lengthAdjust="spacingAndGlyphs">9'-1" CLG.</text>
<text x="79.7" y="353.3" font-size="7.40" fill="#444" textLength="32.3" lengthAdjust="spacingAndGlyphs">MASTER</text>
<text x="84.7" y="362.5" font-size="8.06" fill="#444" textLength="20.8" lengthAdjust="spacingAndGlyphs">BATH</text>
<line x1="79" y1="363.7" x2="111" y2="363.7" stroke="#333" stroke-width="1.0"/>
<text x="78.8" y="372.5" font-size="7.40" fill="#444" textLength="36.7" lengthAdjust="spacingAndGlyphs">10'-1" CLG.</text>
<text x="411.7" y="378.3" font-size="8.40" fill="#444" textLength="50.0" lengthAdjust="spacingAndGlyphs">BEDROOM 4</text>
<line x1="409" y1="379.1" x2="464" y2="379.1" stroke="#333" stroke-width="1.0"/>
<text x="419" y="388.3" font-size="6.94" fill="#444" textLength="34.3" lengthAdjust="spacingAndGlyphs">9'-1" CLG.</text>
<text x="408.3" y="396.7" font-size="6.94" fill="#444" textLength="55.9" lengthAdjust="spacingAndGlyphs">11'-10" X 13'-0"</text>
<text x="276.7" y="402.5" font-size="6.94" fill="#444" textLength="30.0" lengthAdjust="spacingAndGlyphs">GALLERY</text>
<line x1="275.2" y1="403.3" x2="308.2" y2="403.3" stroke="#333" stroke-width="1.0"/>
<text x="275.8" y="410.8" font-size="5.69" fill="#444" textLength="32.5" lengthAdjust="spacingAndGlyphs">10'-1" CLG.</text>
<text x="105.5" y="430" font-size="8.33" fill="#444" textLength="22.5" lengthAdjust="spacingAndGlyphs">BATH 2</text>
<line x1="104.0" y1="430.8" x2="129.5" y2="430.8" stroke="#333" stroke-width="1.0"/>
<text x="105" y="436.7" font-size="5.83" fill="#444" textLength="26.0" lengthAdjust="spacingAndGlyphs">9'-1" CLG.</text>
<text x="221.8" y="448.8" font-size="8.40" fill="#444" textLength="25.0" lengthAdjust="spacingAndGlyphs">ENTRY</text>
<line x1="220.3" y1="449.6" x2="248.3" y2="449.6" stroke="#333" stroke-width="1.0"/>
<text x="220.5" y="457.5" font-size="6.94" fill="#444" textLength="27.5" lengthAdjust="spacingAndGlyphs">13' CLG.</text>
<text x="150" y="461.7" font-size="8.19" fill="#444" textLength="46.7" lengthAdjust="spacingAndGlyphs">BEDROOM 2</text>
<line x1="148.5" y1="462.5" x2="198.2" y2="462.5" stroke="#333" stroke-width="1.0"/>
<text x="157.5" y="470" font-size="6.94" fill="#444" textLength="33.3" lengthAdjust="spacingAndGlyphs">10'-1" CLG.</text>
<text x="151.7" y="478.3" font-size="6.94" fill="#444" textLength="42.3" lengthAdjust="spacingAndGlyphs">14'-2" X 12'-0"</text>
<text x="280" y="453.3" font-size="8.06" fill="#444" textLength="27.5" lengthAdjust="spacingAndGlyphs">DINING</text>
<line x1="278.5" y1="454.1" x2="309.0" y2="454.1" stroke="#333" stroke-width="1.0"/>
<text x="275.8" y="462.5" font-size="6.94" fill="#444" textLength="37.5" lengthAdjust="spacingAndGlyphs">10'-1" CLG.</text>
<text x="268.3" y="471.7" font-size="7.40" fill="#444" textLength="51.7" lengthAdjust="spacingAndGlyphs">12' -0 X 14'-4"</text>
<text x="341.7" y="465" font-size="8.06" fill="#444" textLength="50.0" lengthAdjust="spacingAndGlyphs">BEDROOM 3</text>
<line x1="338" y1="466.5" x2="394" y2="466.5" stroke="#333" stroke-width="1.0"/>
<text x="348.3" y="475" font-size="6.94" fill="#444" textLength="38.4" lengthAdjust="spacingAndGlyphs">10'-1" CLG.</text>
<text x="340.8" y="484" font-size="6.94" fill="#444" textLength="50.9" lengthAdjust="spacingAndGlyphs">12'-6" X 14'-8"</text>
<text x="430.8" y="475" font-size="5.83" fill="#444" textLength="26.7" lengthAdjust="spacingAndGlyphs">HOLYWOOD</text>
<text x="438.3" y="481.7" font-size="6.94" fill="#444" textLength="14.2" lengthAdjust="spacingAndGlyphs">BATH</text>
<line x1="436.8" y1="482.5" x2="454.0" y2="482.5" stroke="#333" stroke-width="1.0"/>
<text x="434.2" y="488.3" font-size="5.69" fill="#444" textLength="22.5" lengthAdjust="spacingAndGlyphs">9'-1" CLG.</text>
<text x="221.7" y="517.5" font-size="7.40" fill="#444" textLength="23.3" lengthAdjust="spacingAndGlyphs">FRONT</text>
<text x="221.7" y="525.8" font-size="8.06" fill="#444" textLength="24.1" lengthAdjust="spacingAndGlyphs">PORCH</text>
<line x1="220" y1="526.5999999999999" x2="248" y2="526.5999999999999" stroke="#333" stroke-width="1.0"/>
<text x="215.8" y="534.2" font-size="7.40" fill="#444" textLength="35.0" lengthAdjust="spacingAndGlyphs">11'-6" CLG.</text>
<text x="398.5" y="237" font-size="3.2" fill="#555" text-anchor="middle">W.I.</text>
<text x="166" y="421.5" font-size="3.2" fill="#555" text-anchor="middle">S.S.</text>
<text x="132.5" y="381.5" font-size="3.2" fill="#555" text-anchor="middle">LIN.</text>
<text x="132.5" y="386" font-size="3.2" fill="#555" text-anchor="middle">CAB.</text>
<text x="98" y="425" font-size="3.2" fill="#555" text-anchor="middle">LIN.</text>
<text x="98" y="429.5" font-size="3.2" fill="#555" text-anchor="middle">CAB.</text>
<text x="107" y="399.5" font-size="3.2" fill="#555" text-anchor="middle">SHWR.</text>
<circle cx="104" cy="404.5" r="0.9" fill="#222"/>
<text x="109" y="479.5" font-size="3.2" fill="#555" text-anchor="middle">SHWR.</text>
<circle cx="102" cy="479" r="0.9" fill="#222"/>
<text x="73" y="390" font-size="3.2" fill="#555" text-anchor="middle">TUB</text>
<text x="466.5" y="478" font-size="3.2" fill="#555" text-anchor="middle">TUB</text>
<circle cx="466.5" cy="488" r="0.9" fill="#222"/>
<text x="471" y="283.5" font-size="3.2" fill="#555" text-anchor="middle">BENCH</text>
<text x="406.2" y="313" font-size="3.2" fill="#555" text-anchor="middle">REF.</text>
<text x="390.8" y="378" font-size="3.2" fill="#555" text-anchor="middle">REF.</text>
<text x="389" y="356" font-size="3.2" fill="#555" text-anchor="middle">WALL</text>
<text x="389" y="359.5" font-size="3.2" fill="#555" text-anchor="middle">&amp;</text>
<text x="389" y="363" font-size="3.2" fill="#555" text-anchor="middle">OVEN</text>
<text x="340.5" y="299.5" font-size="3" fill="#555" text-anchor="middle">DW.</text>
<text x="214" y="292.5" font-size="3.4" fill="#555" text-anchor="middle">F.P.</text>
<text x="455" y="346.5" font-size="3" fill="#555" text-anchor="middle">L.S.</text>
<text x="165.8" y="421.5" font-size="3" fill="#555" text-anchor="middle"></text>
<text x="224.5" y="564" font-size="2.8" fill="#555" text-anchor="middle">Down</text>
<text x="244" y="564" font-size="2.8" fill="#555" text-anchor="middle">Down</text>
<text x="359" y="87.6" font-size="14.60" fill="#2a2a2a" textLength="41.0" lengthAdjust="spacingAndGlyphs" transform="rotate(-0.5 379.5 87.6)">96'-5"</text>
<text transform="translate(30.7,369) rotate(-90)" x="0" y="0" font-size="14.8" fill="#262626" textLength="40.5" lengthAdjust="spacingAndGlyphs">78'-2"</text>
<text x="45.6" y="638.4" font-size="14.30" fill="#333" textLength="41.3" lengthAdjust="spacingAndGlyphs" transform="rotate(-0.5 66.2 638.4)">3248</text>
<text x="103.7" y="637.6" font-size="14.30" fill="#333" textLength="201.3" lengthAdjust="spacingAndGlyphs" transform="rotate(-0.5 204.3 637.6)">TOTAL SQ. FT. LIVING AREA</text>
<line x1="40" y1="643.6" x2="313.5" y2="641.3" stroke="#1c1c1c" stroke-width="1.4"/>
<text x="56.8" y="675.7" font-size="14.80" fill="#333" textLength="30.1" lengthAdjust="spacingAndGlyphs" transform="rotate(-0.5 71.8 675.7)">918</text>
<text x="103.7" y="674.6" font-size="14.80" fill="#333" textLength="119.8" lengthAdjust="spacingAndGlyphs" transform="rotate(-0.5 163.6 674.6)">SQ. FT. GARAGE</text>
<text x="56.8" y="693" font-size="14.80" fill="#333" textLength="30.1" lengthAdjust="spacingAndGlyphs" transform="rotate(-0.5 71.8 693)">347</text>
<text x="103.7" y="692" font-size="14.80" fill="#333" textLength="165.6" lengthAdjust="spacingAndGlyphs" transform="rotate(-0.5 186.5 692)">SQ. FT. FRONT PORCH</text>
<text x="56.8" y="711.2" font-size="14.80" fill="#333" textLength="31.2" lengthAdjust="spacingAndGlyphs" transform="rotate(-0.5 72.4 711.2)">258</text>
<text x="103.7" y="710" font-size="14.80" fill="#333" textLength="157.8" lengthAdjust="spacingAndGlyphs" transform="rotate(-0.5 182.6 710)">SQ. FT. BACK PORCH</text>
<line x1="42.3" y1="733.5" x2="315" y2="730.8" stroke="#1c1c1c" stroke-width="1.4"/>
<text x="50" y="748.5" font-size="14.30" fill="#333" textLength="39.0" lengthAdjust="spacingAndGlyphs" transform="rotate(-0.5 69.5 748.5)">4771</text>
<text x="104.8" y="746.2" font-size="14.30" fill="#333" textLength="204.2" lengthAdjust="spacingAndGlyphs" transform="rotate(-0.5 206.9 746.2)">TOTAL SQ. FT. FRAME AREA</text>
<line x1="42.3" y1="755.2" x2="315" y2="752" stroke="#1c1c1c" stroke-width="1.4"/>
<text x="394" y="624.4" font-size="18.60" fill="#333" textLength="202.4" lengthAdjust="spacingAndGlyphs" transform="rotate(-0.5 495.2 624.4)">PLAN No. 3248-0609</text>
<line x1="392.4" y1="630.2" x2="600" y2="628.6" stroke="#1c1c1c" stroke-width="1.5"/>
<line x1="392.4" y1="635.7" x2="600" y2="634" stroke="#1c1c1c" stroke-width="1.5"/>
<text x="360.7" y="651.2" font-size="14.60" fill="#333" textLength="272.6" lengthAdjust="spacingAndGlyphs" transform="rotate(-0.5 497.0 651.2)">Monte Smith Designs Copyright 2009</text>
<text x="467.6" y="682.9" font-size="14.80" fill="#333" textLength="63.4" lengthAdjust="spacingAndGlyphs" transform="rotate(-0.5 499.3 682.9)">1-STORY</text>
<text x="378.3" y="701.9" font-size="14.80" fill="#333" textLength="241.9" lengthAdjust="spacingAndGlyphs" transform="rotate(-0.5 499.2 701.9)">4-BEDROOM, 3 1/2-BATHROOM,</text>
<text x="372.4" y="721" font-size="14.80" fill="#333" textLength="252.6" lengthAdjust="spacingAndGlyphs" transform="rotate(-0.5 498.7 721)">1-DINING ROOM, 1-FAMILY ROOM,</text>
<text x="392.6" y="737.6" font-size="14.80" fill="#333" textLength="213.4" lengthAdjust="spacingAndGlyphs" transform="rotate(-0.5 499.3 737.6)">1-BREAKFAST, 1-GAME ROOM</text>
<text x="426" y="756.7" font-size="14.80" fill="#333" textLength="146.6" lengthAdjust="spacingAndGlyphs" transform="rotate(-0.5 499.3 756.7)">AND 2-CAR GARAGE</text>
<g fill="#2a2a2a"><polygon points="614.5,26.5 637.5,13 659.5,26.5"/><rect x="617.5" y="26" width="40" height="15.5"/></g>
<polygon points="624,24 635,17.5 646,24" fill="#fff"/>
<path d="M622.3,41.5 V31 a2.2,2.5 0 0 1 4.4,0 V41.5 Z" fill="#fff"/>
<path d="M632.3,41.5 V31 a2.2,2.5 0 0 1 4.4,0 V41.5 Z" fill="#fff"/>
<path d="M642.3,41.5 V31 a2.2,2.5 0 0 1 4.4,0 V41.5 Z" fill="#fff"/>
</svg>
</body></html>
